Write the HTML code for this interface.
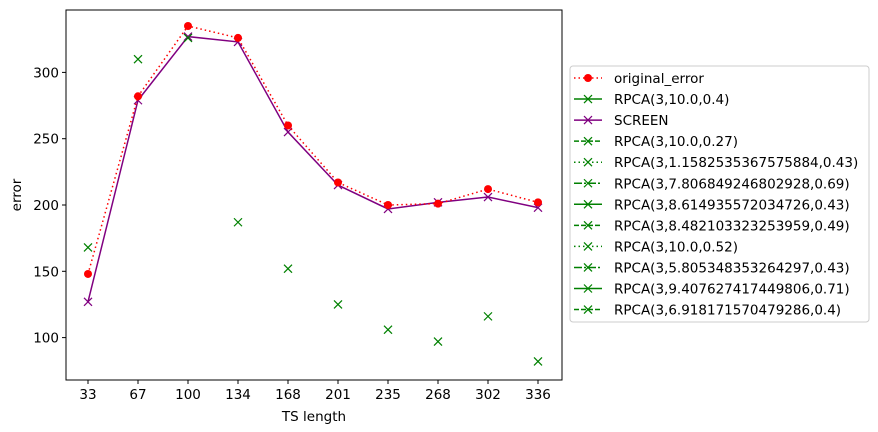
<!DOCTYPE html>
<html><head><meta charset="utf-8"><style>
body{margin:0;background:#fff;}
svg{display:block;font-family:"DejaVu Sans","Liberation Sans",sans-serif;}
</style></head><body>
<svg id="c" width="878" height="432"></svg>
<script>
const categories=["33","67","100","134","168","201","235","268","302","336"];
const originalError=[148,282,335,326,260,217,200,201,212,202];
const screenVals=[127,279,327,323,255,215,197,202,206,198];
const rpcaVals=[168,310,326,187,152,125,106,97,116,82];
const yTicks=[100,150,200,250,300];
const legendLabels=["original_error","RPCA(3,10.0,0.4)","SCREEN","RPCA(3,10.0,0.27)","RPCA(3,1.1582535367575884,0.43)","RPCA(3,7.806849246802928,0.69)","RPCA(3,8.614935572034726,0.43)","RPCA(3,8.482103323253959,0.49)","RPCA(3,10.0,0.52)","RPCA(3,5.805348353264297,0.43)","RPCA(3,9.407627417449806,0.71)","RPCA(3,6.918171570479286,0.4)"];
const legendDash=["1.5,3","","","5,2","1.5,3","8,2,2,2","","5,2","1.5,3","8,2,2,2","","5,2"];
const NS="http://www.w3.org/2000/svg";
const svg=document.getElementById('c');
const L=66,R=562,T=10,B=380,FS=13.5;
const x=i=>88+i*(538-88)/(categories.length-1);
const y=v=>205-(v-200)*66.3/50;
function mk(t,a,p){const e=document.createElementNS(NS,t);for(const k in a)e.setAttribute(k,a[k]);(p||svg).appendChild(e);return e;}
function cross(cx,cy,col,p){const g=mk('g',{stroke:col,'stroke-width':1.2},p);mk('line',{x1:cx-4,y1:cy-4,x2:cx+4,y2:cy+4},g);mk('line',{x1:cx-4,y1:cy+4,x2:cx+4,y2:cy-4},g);return g;}
const frame=mk('rect',{x:L,y:T,width:R-L,height:B-T,fill:'none',stroke:'#000','stroke-width':1});

categories.forEach((c,i)=>{
  mk('line',{x1:x(i),y1:B,x2:x(i),y2:B+4,stroke:'#000'});
  const t=mk('text',{x:x(i),y:B+19,'text-anchor':'middle','font-size':FS});t.textContent=c;
  
});
yTicks.forEach(v=>{
  mk('line',{x1:L-4,y1:y(v),x2:L,y2:y(v),stroke:'#000'});
  const t=mk('text',{x:L-7,y:y(v)+5,'text-anchor':'end','font-size':FS});t.textContent=v;
  
});
const xt=mk('text',{x:314,y:421,'text-anchor':'middle','font-size':FS});xt.textContent='TS length';

const yt=mk('text',{x:21,y:195,'text-anchor':'middle','font-size':FS,transform:'rotate(-90 21 195)'});yt.textContent='error';

const sl=mk('polyline',{points:screenVals.map((v,i)=>x(i)+','+y(v)).join(' '),fill:'none',stroke:'purple','stroke-width':1.5});

screenVals.forEach((v,i)=>{const g=cross(x(i),y(v),'purple');});
const ol=mk('polyline',{points:originalError.map((v,i)=>x(i)+','+y(v)).join(' '),fill:'none',stroke:'red','stroke-width':1.5,'stroke-dasharray':'1.5,3'});

originalError.forEach((v,i)=>{const c=mk('circle',{cx:x(i),cy:y(v),r:4,fill:'red'});});
rpcaVals.forEach((v,i)=>{const g=cross(x(i),y(v),'green');});
const lg=mk('g',{});
mk('rect',{x:570,y:66,width:299,height:256,rx:3,fill:'#fff',stroke:'#ccc'},lg);
legendLabels.forEach((lab,k)=>{
  const cy=78+k*21.05;
  const col=k===0?'red':(k===2?'purple':'green');
  const e=mk('g',{},lg);
  const ln=mk('line',{x1:574,y1:cy,x2:602,y2:cy,stroke:col,'stroke-width':1.5},e);
  if(legendDash[k])ln.setAttribute('stroke-dasharray',legendDash[k]);
  if(k===0)mk('circle',{cx:588,cy:cy,r:4,fill:'red'},e);else cross(588,cy,col,e);
  const t=mk('text',{x:614,y:cy+5,'font-size':FS},e);t.textContent=lab;
});
</script>
</body></html>
